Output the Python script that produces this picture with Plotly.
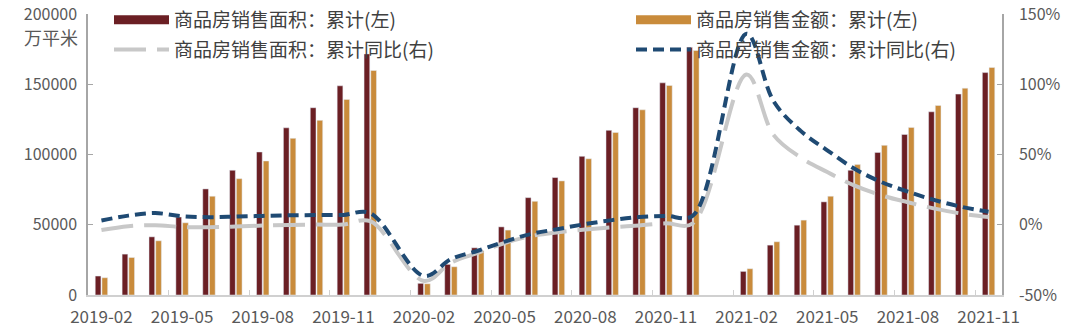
import plotly.graph_objects as go

months = (["2019-%02d" % m for m in range(2, 13)] +
          ["2020-%02d" % m for m in range(1, 13)] +
          ["2021-%02d" % m for m in range(1, 12)])

area_cum = [13.5, 29.1, 41.4, 55.5, 75.5, 88.8, 101.8, 119.0, 133.3, 148.9, 171.6,
            None, 8.3, 21.8, 33.6, 48.5, 69.3, 83.6, 98.7, 117.2, 133.3, 151.0, 176.3,
            None, 16.8, 35.5, 49.7, 66.3, 88.8, 101.5, 114.3, 130.4, 143.0, 158.3]
sales_cum = [12.3, 26.7, 38.6, 51.4, 70.3, 82.8, 95.4, 111.5, 124.3, 139.2, 159.8,
             None, 8.0, 20.1, 31.5, 46.2, 66.7, 81.2, 97.0, 115.7, 131.8, 149.1, 174.0,
             None, 18.7, 37.9, 53.3, 70.3, 92.8, 106.5, 119.3, 134.9, 147.2, 161.9]
area_cum = [v * 1000 if v is not None else None for v in area_cum]
sales_cum = [v * 1000 if v is not None else None for v in sales_cum]

area_yoy = [-3.8, -1.0, -0.3, -1.6, -1.8, -1.3, -0.6, -0.1, 0.1, 0.2, 2.5,
            None, -40.0, -27.0, -20.0, -13.0, -8.0, -5.3, -3.4, -1.8, -0.5, 1.0, 1.0,
            None, 107.0, 64.0, 48.0, 37.5, 28.0, 21.0, 16.0, 11.5, 7.9, 5.5]
sales_yoy = [3.0, 6.5, 8.3, 6.1, 5.4, 5.8, 6.3, 6.7, 6.9, 7.0, 8.3,
             None, -36.5, -24.5, -18.5, -12.0, -6.5, -3.0, 0.5, 3.3, 5.5, 6.3, 6.5,
             None, 136.0, 88.0, 67.0, 53.0, 40.0, 30.5, 23.5, 17.5, 12.7, 9.2]

tick_labels = ["2019-02", "2019-05", "2019-08", "2019-11", "2020-02", "2020-05",
               "2020-08", "2020-11", "2021-02", "2021-05", "2021-08", "2021-11"]

names = ["商品房销售面积：累计(左)", "商品房销售金额：累计(左)",
         "商品房销售面积：累计同比(右)", "商品房销售金额：累计同比(右)"]

c_area = "#6b1f24"
c_sales = "#c98b3b"
c_gray = "#c8c8c8"
c_blue = "#1f4a73"
gray_dash = "32px,11px"
blue_dash = "11px,6px"

fig = go.Figure()
fig.add_trace(go.Bar(x=months, y=area_cum, marker_color=c_area, showlegend=False,
                     name=names[0]))
fig.add_trace(go.Bar(x=months, y=sales_cum, marker_color=c_sales, showlegend=False,
                     name=names[1]))
fig.add_trace(go.Scatter(x=months, y=area_yoy, yaxis="y2", mode="lines",
                         line=dict(color=c_gray, width=4, dash=gray_dash, shape="spline", smoothing=1),
                         connectgaps=True, showlegend=False, name=names[2]))
fig.add_trace(go.Scatter(x=months, y=sales_yoy, yaxis="y2", mode="lines",
                         line=dict(color=c_blue, width=4, dash=blue_dash, shape="spline", smoothing=1),
                         connectgaps=True, showlegend=False, name=names[3]))

# legend entries
fig.add_trace(go.Scatter(x=[None], y=[None], mode="lines", name=names[0], legendgroup="a",
                         line=dict(color=c_area, width=9), legend="legend"))
fig.add_trace(go.Scatter(x=[None], y=[None], mode="lines", name=names[2], legendgroup="b",
                         line=dict(color=c_gray, width=4, dash=gray_dash), legend="legend"))
fig.add_trace(go.Scatter(x=[None], y=[None], mode="lines", name=names[1], legendgroup="c",
                         line=dict(color=c_sales, width=9), legend="legend2"))
fig.add_trace(go.Scatter(x=[None], y=[None], mode="lines", name=names[3], legendgroup="d",
                         line=dict(color=c_blue, width=4, dash=blue_dash), legend="legend2"))

font_family = "Noto Sans CJK SC, Noto Sans, sans-serif"
leg_common = dict(orientation="v", xref="container", yref="container",
                  xanchor="left", yanchor="top", bgcolor="rgba(0,0,0,0)",
                  font=dict(size=19, color="#404040", family=font_family),
                  tracegroupgap=2, itemwidth=55)

fig.update_layout(
    width=1080, height=333,
    margin=dict(l=88, r=78, t=14, b=38, autoexpand=False),
    paper_bgcolor="white", plot_bgcolor="white",
    barmode="group", bargap=0.5, bargroupgap=0.15,
    font=dict(family=font_family, size=16, color="#595959"),
    legend=dict(x=109 / 1080, y=1 - 1 / 333, **leg_common),
    legend2=dict(x=631 / 1080, y=1 - 1 / 333, **leg_common),
    xaxis=dict(type="category", categoryorder="array", categoryarray=months,
               tickmode="array", tickvals=tick_labels, ticktext=tick_labels,
               tickson="boundaries", ticks="inside", ticklen=5, tickcolor="#d0d0d0",
               showline=True, linecolor="#d0d0d0", linewidth=1.5, tickangle=0,
               showgrid=False, tickfont=dict(size=17, color="#595959"),
               ticklabelstandoff=6,
               range=[-0.5, len(months) - 0.5]),
    yaxis=dict(range=[0, 200000], tickvals=[0, 50000, 100000, 150000, 200000],
               ticktext=["0", "50000", "100000", "150000", "200000"],
               showline=True, linecolor="#a6a6a6", linewidth=1.5,
               ticks="inside", ticklen=5, tickcolor="#a6a6a6",
               showgrid=False, zeroline=False, ticklabelstandoff=6,
               tickfont=dict(size=16, color="#595959")),
    yaxis2=dict(range=[-50, 150], overlaying="y", side="right",
                tickvals=[-50, 0, 50, 100, 150],
                ticktext=["-50%", "0%", "50%", "100%", "150%"],
                showline=True, linecolor="#a6a6a6", linewidth=1.5,
                ticks="inside", ticklen=5, tickcolor="#a6a6a6",
                showgrid=False, zeroline=False, ticklabelstandoff=12,
                tickfont=dict(size=16, color="#595959")),
    annotations=[dict(text="万平米", xref="paper", yref="paper",
                      x=-0.009, y=1 - 23 / 281, xanchor="right", yanchor="middle",
                      showarrow=False, font=dict(size=18, color="#595959", family=font_family))],
)

fig.write_html("out.html")
